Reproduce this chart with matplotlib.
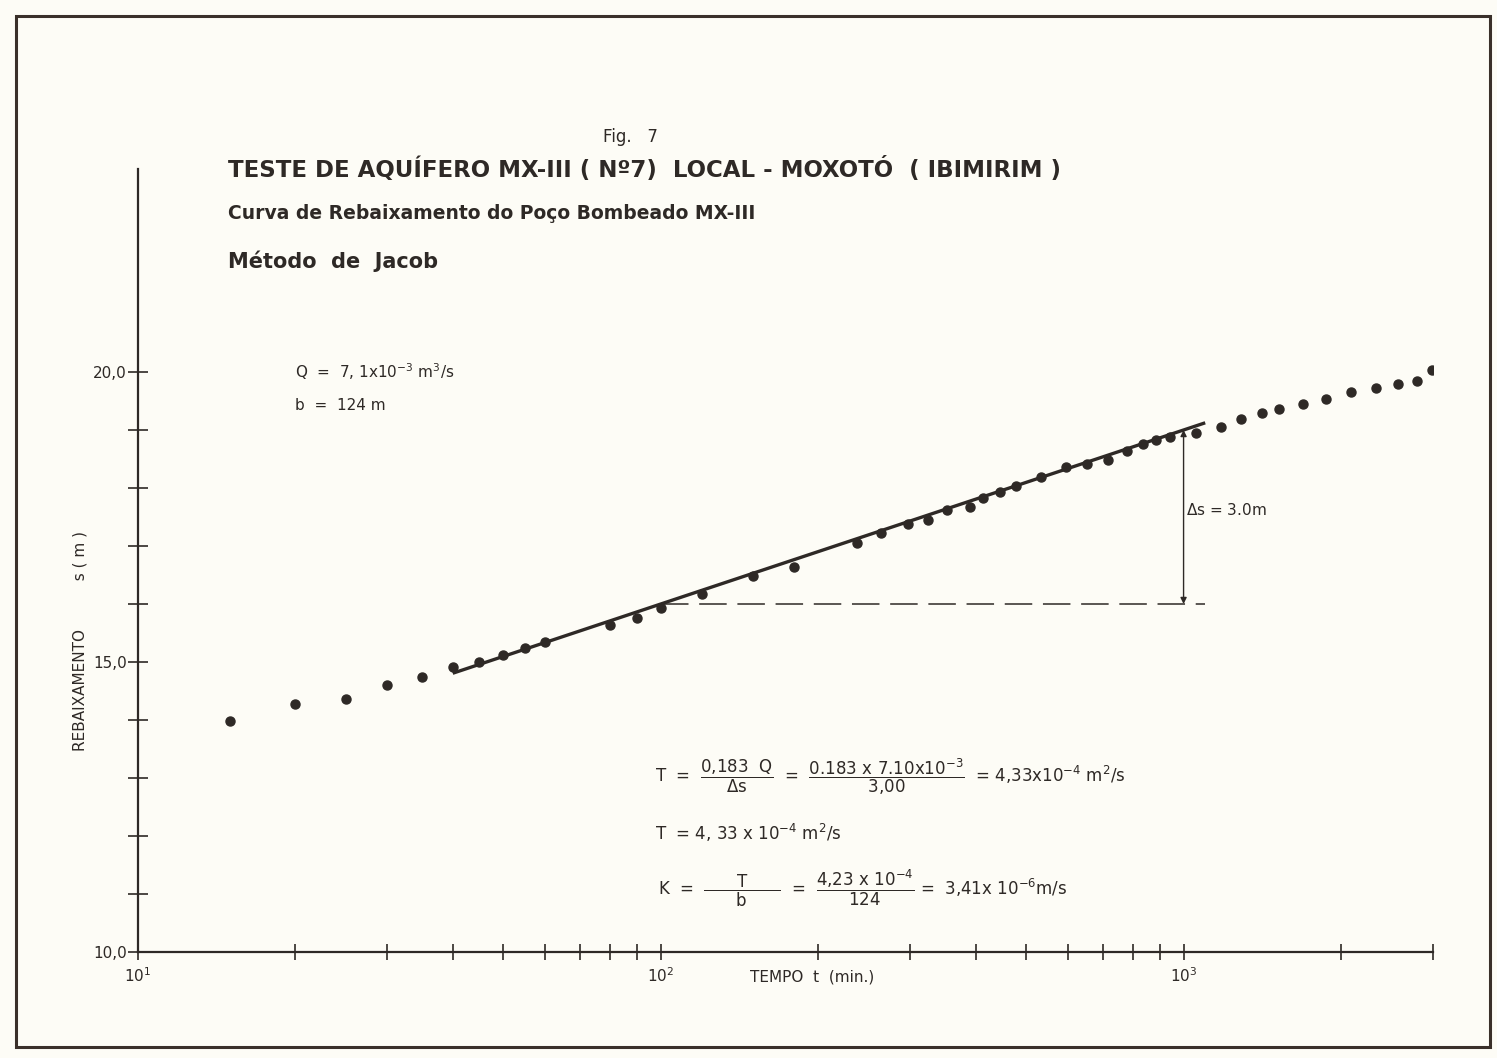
import numpy as np
import matplotlib
matplotlib.use('Agg')
import matplotlib.pyplot as plt
from matplotlib.patches import Rectangle

# Dados (tempo em min, rebaixamento em m)
tempo = [15, 20, 25, 30, 35, 40, 45, 50, 55, 60, 80, 90, 100, 120, 150, 180,
         237, 264, 297, 324, 352, 390, 413, 445, 477, 533, 595, 653, 716, 778,
         838, 887, 944, 1054, 1177, 1285, 1410, 1520, 1695, 1876, 2095, 2339,
         2577, 2800, 2990]
rebaixamento = [13.98, 14.28, 14.36, 14.60, 14.74, 14.91, 15.00, 15.12, 15.24, 15.34,
                15.64, 15.76, 15.93, 16.17, 16.48, 16.64,
                17.05, 17.22, 17.38, 17.45, 17.62, 17.67, 17.83, 17.93, 18.03, 18.19,
                18.36, 18.41, 18.48, 18.64, 18.76, 18.83, 18.88, 18.95, 19.05, 19.19,
                19.29, 19.36, 19.45, 19.53, 19.66, 19.72, 19.79, 19.84, 20.03]

# reta de Jacob: s = 16.0 + 3.0 log10(t/100)
reta_t = [40, 1100]
reta_s0 = 16.0
delta_s = 3.0

ytick_vals = list(range(10, 21))
ytick_labels = ['10,0' if v == 10 else '15,0' if v == 15 else '20,0' if v == 20 else '' for v in ytick_vals]

ink = '#2e2926'
W, H = 1497, 1058

plt.rcParams['mathtext.default'] = 'regular'
plt.rcParams['font.family'] = ['DejaVu Sans']

fig = plt.figure(figsize=(W / 100, H / 100), dpi=100, facecolor='#fdfcf6')

def px(x, y):
    return x / W, 1 - y / H

# moldura da página
fig.patches.append(Rectangle(px(16, 1047), (1490 - 16) / W, (1047 - 16) / H,
                             transform=fig.transFigure, fill=False,
                             edgecolor='#3a302a', linewidth=2.2))

ax = fig.add_axes([138 / W, 1 - 952 / H, (1433 - 138) / W, (952 - 169) / H])
ax.set_facecolor('none')
ax.set_xscale('log')
ax.set_xlim(10, 3000)
ax.set_ylim(10, 10 + 783 / 58)

for s in ['top', 'right']:
    ax.spines[s].set_visible(False)
for s in ['left', 'bottom']:
    ax.spines[s].set_color(ink)
    ax.spines[s].set_linewidth(1.6)

ax.set_xticks([10, 100, 1000])
ax.set_xticklabels([r'$10^1$', r'$10^2$', r'$10^3$'])
ax.tick_params(axis='x', which='both', direction='inout', length=12, width=1.2,
               colors=ink, labelsize=11, pad=4)
ax.set_yticks(ytick_vals)
ax.set_yticklabels(ytick_labels)
ax.tick_params(axis='y', direction='inout', length=14, width=1.2, colors=ink,
               labelsize=11, pad=1)
ax.xaxis.set_minor_formatter(matplotlib.ticker.NullFormatter())

# pontos
ax.plot(tempo, rebaixamento, 'o', color=ink, markersize=6.5, zorder=3)

# reta ajustada
rt = np.array(reta_t, dtype=float)
ax.plot(rt, reta_s0 + delta_s * np.log10(rt / 100), color=ink, linewidth=2.4,
        solid_capstyle='butt', zorder=2)

# linha tracejada em s = 16,0
ax.plot([100, 1100], [reta_s0, reta_s0], color=ink, linewidth=1.1,
        dashes=(18, 7), zorder=2)

# seta delta s
ax.annotate('', xy=(1000, reta_s0 + delta_s), xytext=(1000, reta_s0),
            arrowprops=dict(arrowstyle='<|-|>', color=ink, lw=1.0,
                            shrinkA=0, shrinkB=0, mutation_scale=9))
ax.text(1010, 17.62, r'$\Delta$s = 3.0m', color=ink, fontsize=11,
        ha='left', va='center')

# títulos
fig.text(*px(630, 137), 'Fig.   7', color=ink, fontsize=12, ha='center', va='center')
fig.text(*px(228, 170), 'TESTE DE AQUÍFERO MX-III ( Nº7)  LOCAL - MOXOTÓ  ( IBIMIRIM )',
         color=ink, fontsize=16.5, fontweight='bold', ha='left', va='center')
fig.text(*px(228, 214), 'Curva de Rebaixamento do Poço Bombeado MX-III',
         color=ink, fontsize=13.5, fontweight='bold', ha='left', va='center')
fig.text(*px(228, 261), 'Método  de  Jacob', color=ink, fontsize=15,
         fontweight='bold', ha='left', va='center')

# dados do teste
fig.text(*px(295, 372), r'Q  =  7, 1x10$^{-3}$ m$^3$/s', color=ink, fontsize=11,
         ha='left', va='center')
fig.text(*px(295, 405), 'b  =  124 m', color=ink, fontsize=11, ha='left', va='center')

# eixos
fig.text(*px(80, 641), 'REBAIXAMENTO          s ( m )', color=ink, fontsize=11,
         rotation=90, ha='center', va='center')
fig.text(*px(750, 977), 'TEMPO  t  (min.)', color=ink, fontsize=11,
         ha='left', va='center')

# cálculos
fig.text(*px(655, 777),
         r'T  =  $\dfrac{0{,}183\ \ Q}{\Delta s}$  =  '
         r'$\dfrac{0.183\ x\ 7.10x10^{-3}}{3{,}00}$  = 4,33x10$^{-4}$ m$^2$/s',
         color=ink, fontsize=12, ha='left', va='center')
fig.text(*px(655, 833), r'T  = 4, 33 x 10$^{-4}$ m$^2$/s', color=ink, fontsize=12,
         ha='left', va='center')
fig.text(*px(658, 888),
         r'K  =  $\dfrac{\ \ \ \ \ \ T\ \ \ \ \ \ }{b}$  =  '
         r'$\dfrac{4{,}23\ x\ 10^{-4}}{124}$ =  3,41x 10$^{-6}$m/s',
         color=ink, fontsize=12, ha='left', va='center')

fig.savefig('out.png', dpi=100, facecolor=fig.get_facecolor())
